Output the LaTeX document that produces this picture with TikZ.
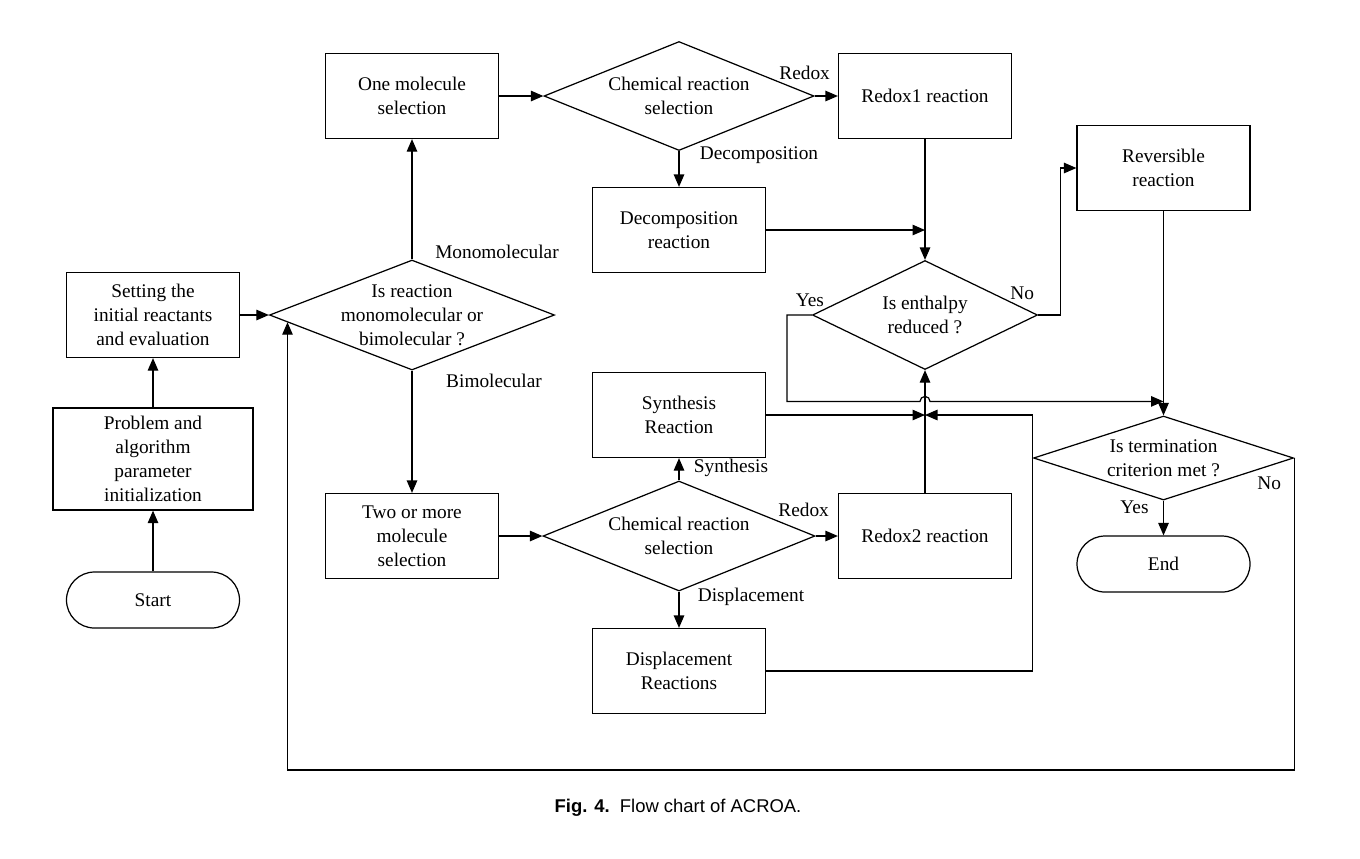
\documentclass[tikz,border=0pt]{standalone}
\usepackage{fontspec}
\setmainfont{Liberation Serif}
\newfontfamily\capfont{Liberation Sans}
\usetikzlibrary{arrows.meta,shapes.geometric,calc}
\tikzset{%
  >={Triangle[width=2.1mm,length=2.5mm]},
  % Specifications for style of nodes:
            base/.style = {draw=black, line width=0.7pt,
                           text centered, align=center,
                           font=\fontsize{11}{13.6}\selectfont},
       process/.style = {base, rectangle, minimum width=3.46cm, minimum height=1.7cm},
      terminal/.style = {base, rectangle, rounded corners=0.56cm,
                           minimum width=3.46cm, minimum height=1.12cm},
      decision/.style = {base, diamond, inner sep=0pt},
           lbl/.style = {font=\fontsize{11}{13.6}\selectfont, align=center, inner sep=0pt},
}
\begin{document}
\begin{tikzpicture}[node distance=5cm, line width=0.7pt]
  \useasboundingbox (0,0) rectangle (27.2,-17.16);
  % Specification of nodes (position, etc.)

  \node (setting)      [process] at (3.06,-6.3) {Setting the\\initial reactants\\and evaluation};
  \node (problem)      [process, minimum width=4cm, minimum height=2.04cm, below of=setting, yshift=2.12cm] {Problem and\\algorithm\\parameter\\initialization};
  \node (start)        [terminal, below of=problem, yshift=2.18cm] {Start};

  \node (isreact)      [decision, minimum width=5.7cm, minimum height=2.2cm, right of=setting, xshift=0.18cm,
                        label={[lbl]center:Is reaction\\monomolecular or\\bimolecular ?}] {};
  \node (onemol)       [process, above of=isreact, yshift=-0.62cm] {One molecule\\selection};
  \node (twomol)       [process, below of=isreact, yshift=0.58cm] {Two or more\\molecule\\selection};

  \node (chemone)      [decision, minimum width=5.4cm, minimum height=2.18cm, right of=onemol, xshift=0.34cm,
                        label={[lbl]center:Chemical reaction\\selection}] {};
  \node (decomp)       [process, below of=chemone, yshift=2.32cm] {Decomposition\\reaction};
  \node (redoxone)     [process, right of=chemone, xshift=-0.08cm] {Redox1 reaction};

  \node (chemtwo)      [decision, minimum width=5.44cm, minimum height=2.2cm, right of=twomol, xshift=0.34cm,
                        label={[lbl]center:Chemical reaction\\selection}] {};
  \node (synth)        [process, above of=chemtwo, yshift=-2.58cm] {Synthesis\\Reaction};
  \node (displ)        [process, below of=chemtwo, yshift=2.3cm] {Displacement\\Reactions};
  \node (redoxtwo)     [process, right of=chemtwo, xshift=-0.08cm] {Redox2 reaction};

  \node (enthalpy)     [decision, minimum width=4.5cm, minimum height=2.18cm, below of=redoxone, yshift=0.62cm,
                        label={[lbl]center:Is enthalpy\\reduced ?}] {};
  \node (reversible)   [process, right of=redoxone, xshift=-0.23cm, yshift=-1.44cm] {Reversible\\reaction};
  \node (termination)  [decision, minimum width=5.2cm, minimum height=1.68cm, below of=reversible, yshift=-0.8cm,
                        label={[lbl]center:Is termination\\criterion met ?}] {};
  \node (end)          [terminal, below of=termination, yshift=2.88cm] {End};

  \node (caption) at (13.56,-16.16) {\capfont\fontsize{10.5}{12}\selectfont\textbf{Fig. 4.}\ \ Flow chart of ACROA.};

  \coordinate (yesend) at ($(termination.north)+(0,0.28)$);
  \coordinate (hop)    at (enthalpy.south |- yesend);
  \coordinate (meet)   at (synth.east -| enthalpy.south);
  \coordinate (backin) at ($(isreact.west)!0.13!(isreact.south)$);

 \draw[->]					(start) -- (problem);
 \draw[->]					(problem) -- (setting);
 \draw[->]					(setting) -- (isreact);
 \draw[->]					(isreact) -- (onemol) node[lbl, pos=0, xshift=1.7cm, yshift=0.16cm] {Monomolecular};
 \draw[->]					(isreact) -- (twomol) node[lbl, pos=0, xshift=1.64cm, yshift=-0.2cm] {Bimolecular};

 \draw[->]					(onemol) -- (chemone);
 \draw[->]					(chemone) -- (redoxone) node[lbl, pos=0, xshift=-0.2cm, yshift=0.46cm] {Redox};
 \draw[->]					(chemone) -- (decomp) node[lbl, pos=0, xshift=1.6cm, yshift=-0.08cm] {Decomposition};
 \draw[->]					(redoxone) -- (enthalpy);
 \draw[->]					(decomp.east) -- (decomp.east -| enthalpy.north);

 \draw[->]					(twomol) -- (chemtwo);
 \draw[->]					(chemtwo) -- (synth) node[lbl, pos=0, xshift=1.04cm, yshift=0.26cm] {Synthesis};
 \draw[->]					(chemtwo) -- (redoxtwo) node[lbl, pos=0, xshift=-0.24cm, yshift=0.52cm] {Redox};
 \draw[->]					(chemtwo) -- (displ) node[lbl, pos=0, xshift=1.44cm, yshift=-0.1cm] {Displacement};
 \draw[->]					(redoxtwo) -- (enthalpy);
 \draw[->]					(synth.east) -- (meet);
 \draw[->]					(displ.east) -- ++(5.32,0) |- (meet);

 \draw[->]					(enthalpy.east) -- ++(0.44,0) node[lbl, pos=0, xshift=-0.32cm, yshift=0.44cm] {No} |- (reversible.west);
 \draw[->]					(enthalpy.west) -- ++(-0.5,0) node[lbl, pos=0, xshift=-0.04cm, yshift=0.3cm] {Yes}
  |- ($(hop)+(-0.1,0)$) arc[start angle=180, end angle=0, radius=0.1cm] -- (yesend);

 \draw[->]					(reversible) -- (termination);
 \draw[->]					(termination) -- (end) node[lbl, pos=0, xshift=-0.58cm, yshift=-0.14cm] {Yes};
 \draw[->]					(termination.east) -- ++(0,-6.24) node[lbl, pos=0, xshift=-0.5cm, yshift=-0.5cm] {No} -| (backin);

  \end{tikzpicture}
\end{document}
